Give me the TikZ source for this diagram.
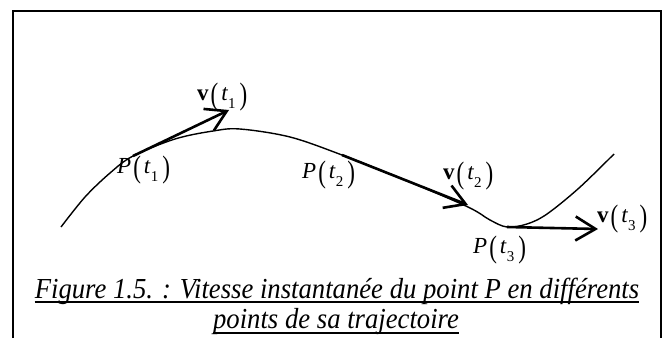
\documentclass[tikz,border=0pt]{standalone}
\usepackage{graphicx}
\usepackage{fontspec}
\setmainfont{Liberation Serif}
\usepackage{tikz}
\usetikzlibrary{arrows.meta, positioning, calc}

\newcommand{\tlabel}[2]{#1\hspace{2pt}\raisebox{-4pt}{\scalebox{1}[1.35]{(}}\hspace{3pt}\textit{t}\raisebox{-8pt}{\fontsize{15}{15}\selectfont #2}\hspace{4pt}\raisebox{-4pt}{\scalebox{1}[1.35]{)}}}

\begin{document}
\begin{tikzpicture}[
          x=1pt, y=-1pt,
          frame/.style={line width=1.8pt},
          traj/.style={line width=1.4pt},
          vec/.style={line width=2.6pt,
                      -{Straight Barb[length=20pt, width=24pt]}},
          lbl/.style={anchor=base west, inner sep=0pt,
                      font=\fontsize{23}{23}\selectfont},
          captxt/.style={anchor=base, inner sep=0pt,
                      font=\fontsize{29}{29}\selectfont\itshape},
      ]
      \useasboundingbox (0,0) rectangle (666,338);
      \draw[frame] (13,338) -- (13,11) -- (661,11) -- (661,338);
      \draw[traj] plot[smooth, tension=0.55] coordinates {
          (61,227) (85,197) (110,173) (133,156) (175,139) (213,131)
          (240,129) (290,137) (342,155) (405,180) (468,207) (490,220)
          (507,227) (527,224) (547,214) (579,188) (614,154)};
      \coordinate (p1) at (133,156);
      \coordinate (v1) at (229,110);
      \coordinate (p2) at (342,155);
      \coordinate (v2) at (468,205);
      \coordinate (p3) at (507,227);
      \coordinate (v3) at (598,229);
      \draw[vec] (p1) -- (v1);
      \draw[vec] (p2) -- (v2);
      \draw[vec] (p3) -- (v3);
      \node[lbl] (lv1) at (197,100) {\tlabel{\textbf{v}}{1}};
      \node[lbl] (lp1) at (117,173) {\tlabel{\textit{P}}{1}};
      \node[lbl] (lp2) at (302,178) {\tlabel{\textit{P}}{2}};
      \node[lbl] (lv2) at (443,179) {\tlabel{\textbf{v}}{2}};
      \node[lbl] (lp3) at (473,253) {\tlabel{\textit{P}}{3}};
      \node[lbl] (lv3) at (597,222) {\tlabel{\textbf{v}}{3}};
      \node[captxt] (cap1) at (337,298)
          {\scalebox{0.92}[1]{Figure 1.5. : Vitesse instantanée du point P en différents}};
      \node[captxt] (cap2) at (336,328)
          {\scalebox{0.92}[1]{points de sa trajectoire}};
      \draw[line width=1.3pt] ([yshift=-4pt]cap1.base west) -- ([yshift=-4pt]cap1.base east);
      \draw[line width=1.3pt] ([yshift=-5pt]cap2.base west) -- ([yshift=-5pt]cap2.base east);
      \end{tikzpicture}
\end{document}
